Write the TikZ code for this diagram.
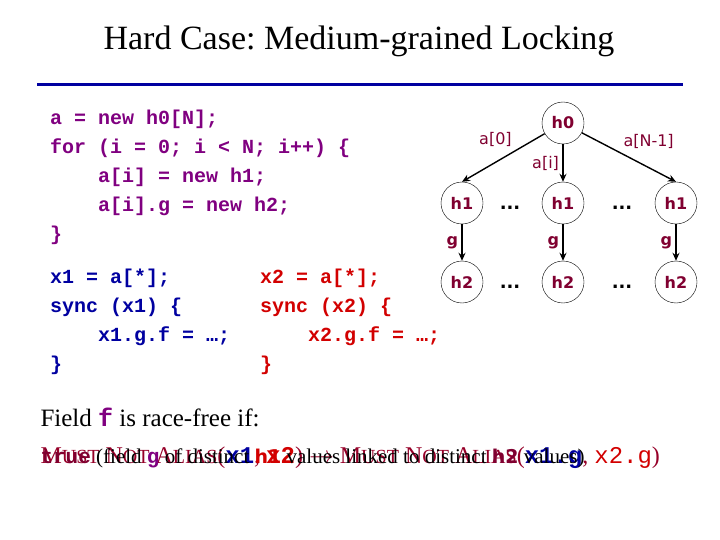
\documentclass[tikz,border=0pt]{standalone}
\usepackage{fontspec}
\setmainfont{Liberation Serif}
\setmonofont{Liberation Mono}
\newfontfamily\verdfont{DejaVu Sans}
\usetikzlibrary{positioning, arrows.meta}

\definecolor{codepurple}{RGB}{128,0,128}
\definecolor{codeblue}{RGB}{0,0,160}
\definecolor{codered}{RGB}{210,0,0}
\definecolor{heapred}{RGB}{128,0,48}
\definecolor{aliasred}{RGB}{150,0,40}
\definecolor{rulecol}{RGB}{0,0,160}

\newcommand{\smallcap}[1]{{\fontsize{20}{20}\selectfont #1}}
\newcommand{\mustnot}{M\smallcap{UST} N\smallcap{OT} A\smallcap{LIAS}}

\tikzset{
  code/.style={anchor=north west, inner sep=0pt, align=left,
    font=\fontsize{20}{29}\selectfont\ttfamily\bfseries},
  heap/.style={circle, draw, thin, minimum size=42pt, inner sep=0pt,
    text=heapred, font=\verdfont\bfseries\fontsize{16}{16}\selectfont},
  fld/.style={text=heapred, font=\verdfont\fontsize{16}{16}\selectfont},
  gfld/.style={text=heapred, font=\verdfont\bfseries\fontsize{16}{16}\selectfont},
  dots/.style={anchor=base, font=\verdfont\bfseries\fontsize{18}{18}\selectfont},
  ptr/.style={->, line width=1.4pt}
}

\begin{document}
\begin{tikzpicture}[x=1pt, y=-1pt, node distance=80pt, >={Stealth[length=8pt, width=7pt]}]
\useasboundingbox (0,0) rectangle (720,540);

\node [anchor=base] (title) at (359,50) {\fontsize{34}{40}\selectfont\frenchspacing Hard Case: Medium-grained Locking};
\draw [rulecol, line width=3pt] (37,84.5) -- (683,84.5);

% allocation code
\node [code, text=codepurple] (alloc) at (50,109.5) {a = new h0[N];\\
for (i = 0; i < N; i++) \{\\
\hspace*{48pt}a[i] = new h1;\\
\hspace*{48pt}a[i].g = new h2;\\
\}};

% the two threads
\node [code, text=codeblue] (thread1) at (50,269) {x1 = a[*];\\
sync (x1) \{\\
\hspace*{48pt}x1.g.f = …;\\
\}};
\node [code, text=codered] (thread2) at (260,269) {x2 = a[*];\\
sync (x2) \{\\
\hspace*{48pt}x2.g.f = …;\\
\}};

% heap
\node [heap] (h0) at (563,123) {h0};
\node [heap, below of=h0] (h1mid) {h1};
\node [heap, left of=h1mid, node distance=101pt] (h1first) {h1};
\node [heap, right of=h1mid, node distance=113pt] (h1last) {h1};
\node [heap, below of=h1first, node distance=79pt] (h2first) {h2};
\node [heap, below of=h1mid, node distance=79pt] (h2mid) {h2};
\node [heap, below of=h1last, node distance=79pt] (h2last) {h2};

\node [dots] (dotsa) at (510,210) {...};
\node [dots] (dotsb) at (622,210) {...};
\node [dots] (dotsc) at (510,288.5) {...};
\node [dots] (dotsd) at (622,288.5) {...};

\draw [ptr] (h0) -- node [fld, pos=0.35, above left] {a[0]} (h1first.north);
\draw [ptr] (h0) -- node [fld, left] {a[i]} (h1mid.north);
\draw [ptr] (h0) -- node [fld, pos=0.4, above right] {a[N-1]} (h1last.north);
\draw [ptr] (h1first) -- node [gfld, left] {g} (h2first);
\draw [ptr] (h1mid) -- node [gfld, left] {g} (h2mid);
\draw [ptr] (h1last) -- node [gfld, left] {g} (h2last);

% condition
\node [anchor=base west, font=\fontsize{25}{29}\selectfont] (field) at (37,426)
  {Field \textcolor{codepurple}{\ttfamily\bfseries f} is race-free if:};
\node [anchor=base west, font=\fontsize{24}{28}\selectfont, text=aliasred] (alias) at (37,463)
  {\mustnot(\textcolor{codeblue}{\ttfamily\bfseries x1}, \textcolor{codered}{\ttfamily\bfseries x2}) $\rightarrow$ \mustnot(\textcolor{codeblue}{\ttfamily\bfseries x1.g}, \textcolor{codered}{\ttfamily x2.g})};
\node [anchor=base west, font=\fontsize{21}{25}\selectfont] (truth) at (37,463)
  {\textcolor{heapred}{\ttfamily\bfseries true} (field \textcolor{codepurple}{\ttfamily\bfseries g} of distinct \textcolor{codered}{\verdfont\bfseries\fontsize{19}{19}\selectfont h1} values linked to distinct \textcolor{heapred}{\verdfont\bfseries\fontsize{19}{19}\selectfont h2} values)};
\end{tikzpicture}
\end{document}
